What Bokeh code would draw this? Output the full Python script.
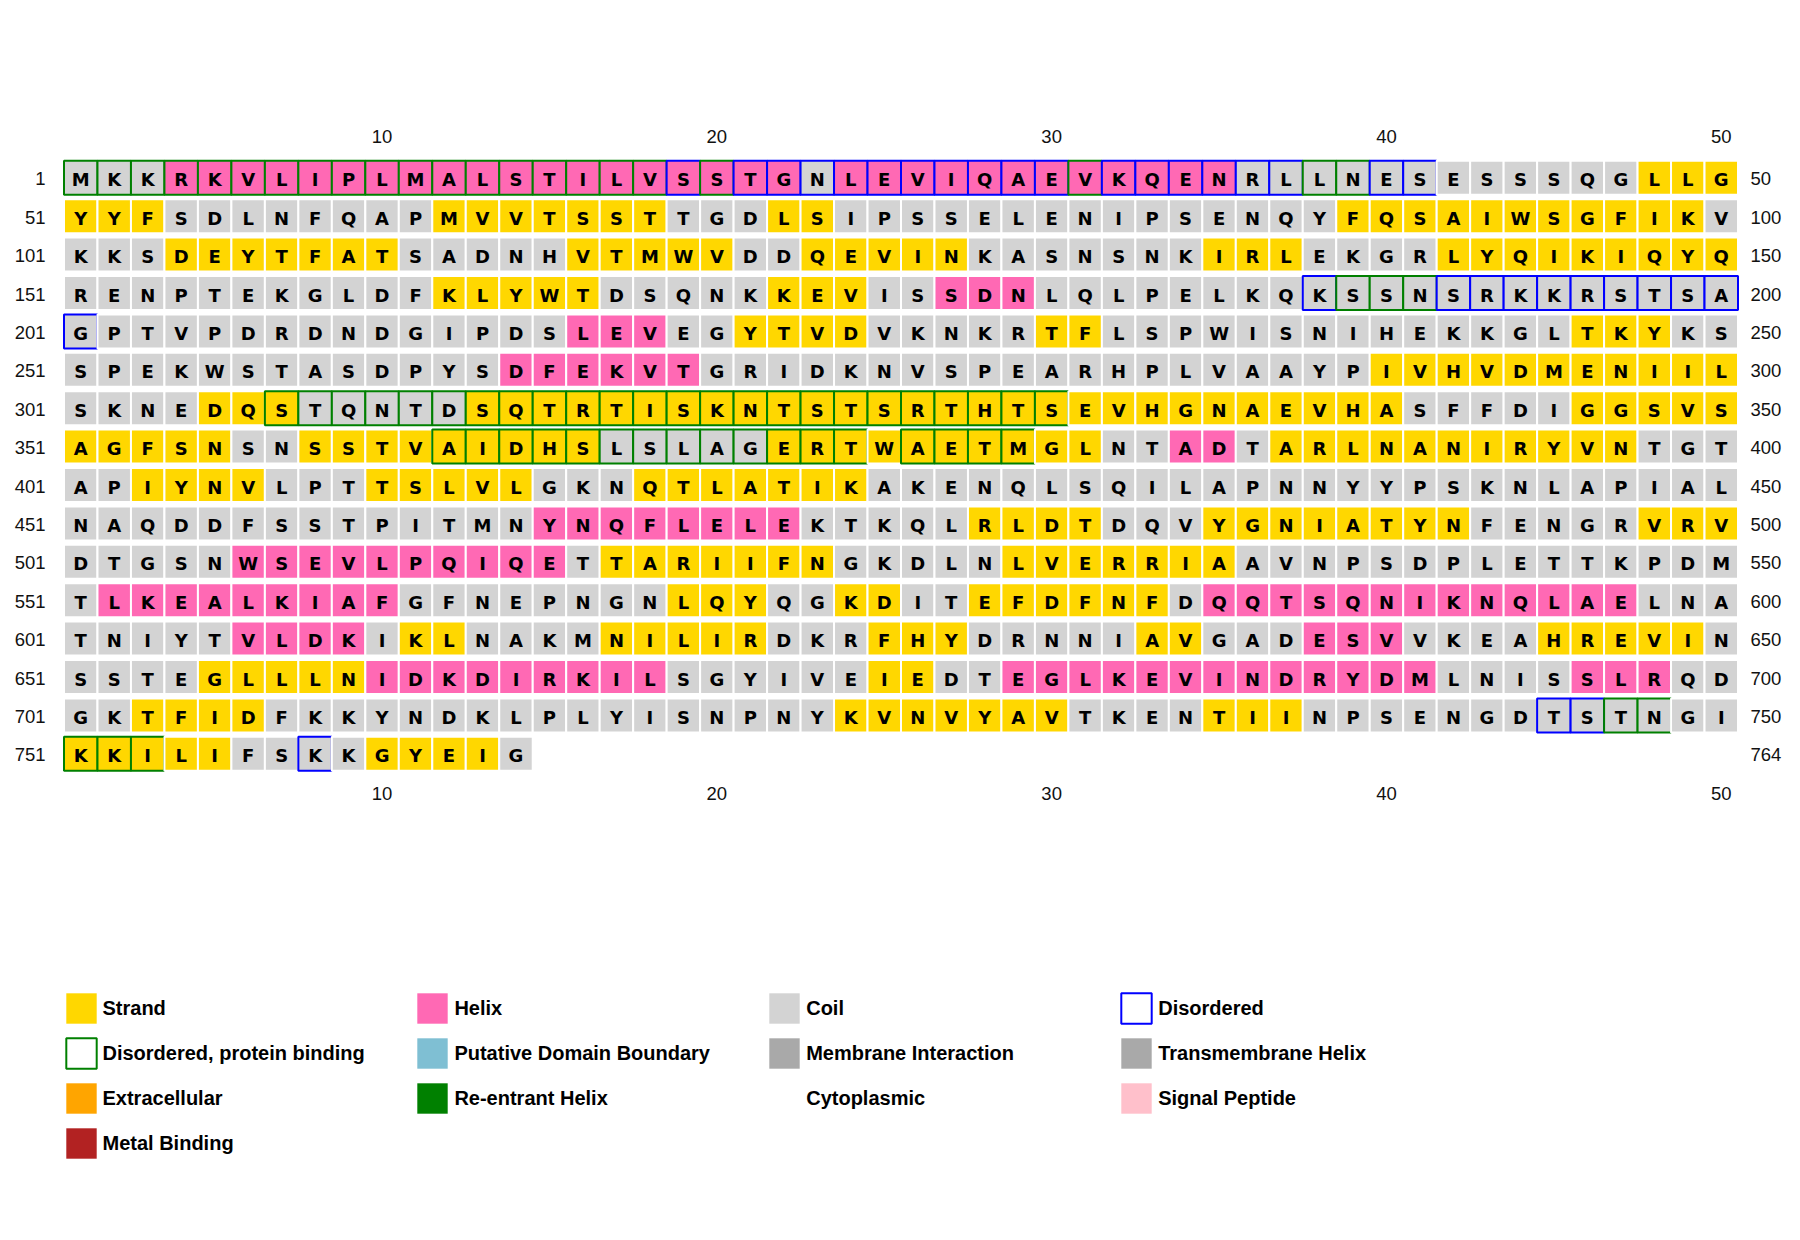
from bokeh.plotting import figure
from bokeh.models import ColumnDataSource, Range1d, Legend, LegendItem
from bokeh.core.properties import value
from bokeh.embed import file_html
from bokeh.resources import INLINE

# ---------------- data ----------------
SEQUENCE_ROWS = [
    "MKKRKVLIPLMALSTILVSSTGNLEVIQAEVKQENRLLNESESSSQGLLG",
    "YYFSDLNFQAPMVVTSSTTGDLSIPSSELENIPSENQYFQSAIWSGFIKV",
    "KKSDEYTFATSADNHVTMWVDDQEVINKASNSNKIRLEKGRLYQIKIQYQ",
    "RENPTEKGLDFKLYWTDSQNKKEVISSDNLQLPELKQKSSNSRKKRSTSA",
    "GPTVPDRDNDGIPDSLEVEGYTVDVKNKRTFLSPWISNIHEKKGLTKYKS",
    "SPEKWSTASDPYSDFEKVTGRIDKNVSPEARHPLVAAYPIVHVDMENIIL",
    "SKNEDQSTQNTDSQTRTISKNTSTSRTHTSEVHGNAEVHASFFDIGGSVS",
    "AGFSNSNSSTVAIDHSLSLAGERTWAETMGLNTADTARLNANIRYVNTGT",
    "APIYNVLPTTSLVLGKNQTLATIKAKENQLSQILAPNNYYPSKNLAPIAL",
    "NAQDDFSSTPITMNYNQFLELEKTKQLRLDTDQVYGNIATYNFENGRVRV",
    "DTGSNWSEVLPQIQETTARIIFNGKDLNLVERRIAAVNPSDPLETTKPDM",
    "TLKEALKIAFGFNEPNGNLQYQGKDITEFDFNFDQQTSQNIKNQLAELNA",
    "TNIYTVLDKIKLNAKMNILIRDKRFHYDRNNIAVGADESVVKEAHREVIN",
    "SSTEGLLLNIDKDIRKILSGYIVEIEDTEGLKEVINDRYDMLNISSLRQD",
    "GKTFIDFKKYNDKLPLYISNPNYKVNVYAVTKENTIINPSENGDTSTNGI",
    "KKILIFSKKGYEIG",
]
ROW_LENGTH = 50

STRAND_RANGES = [
    (48, 53), (62, 68), (72, 73), (89, 99), (104, 110), (116, 120), (123, 127),
    (135, 137), (142, 150), (162, 166), (172, 174), (221, 224), (230, 231),
    (246, 248), (290, 300), (305, 307), (313, 340), (346, 355), (358, 366),
    (372, 381), (387, 397), (403, 406), (410, 414), (418, 424), (478, 481),
    (485, 492), (498, 500), (517, 523), (529, 535), (569, 571), (574, 575),
    (578, 583), (611, 612), (617, 621), (625, 627), (633, 634), (645, 649),
    (655, 659), (675, 676), (703, 706), (724, 730), (735, 737), (751, 755),
    (760, 763),
]
HELIX_RANGES = [
    (4, 22), (24, 35), (177, 179), (216, 218), (264, 269), (384, 385),
    (465, 472), (506, 515), (552, 560), (585, 597), (606, 609), (638, 640),
    (660, 668), (679, 691), (696, 698),
]
DISORDERED_RANGES = [
    (19, 19), (21, 30), (32, 37), (40, 41), (188, 188), (192, 201),
    (745, 746), (758, 758),
]
PROTEIN_BINDING_RANGES = [
    (1, 18), (20, 20), (31, 31), (38, 39), (189, 191), (307, 330),
    (362, 374), (376, 379), (747, 748), (751, 753),
]
AXIS_TICKS = [10, 20, 30, 40, 50]

LEGEND_COLUMNS = [
    [("Strand", "#FFD700", None), ("Disordered, protein binding", "white", "#008000"),
     ("Extracellular", "#FFA500", None), ("Metal Binding", "#B22222", None)],
    [("Helix", "#FF69B4", None), ("Putative Domain Boundary", "#7FBFD3", None),
     ("Re-entrant Helix", "#008000", None)],
    [("Coil", "#D3D3D3", None), ("Membrane Interaction", "#A9A9A9", None),
     ("Cytoplasmic", None, None)],
    [("Disordered", "white", "#0000FF"), ("Transmembrane Helix", "#A9A9A9", None),
     ("Signal Peptide", "#FFC0CB", None)],
]

SS_COLORS = {"strand": "#FFD700", "helix": "#FF69B4", "coil": "#D3D3D3"}
BORDER_COLORS = {"disordered": "#0000FF", "binding": "#008000", None: "white"}

# ---------------- build cells ----------------
sequence = "".join(SEQUENCE_ROWS)
n = len(sequence)
ss = ["coil"] * n
for a, b in STRAND_RANGES:
    for i in range(a, b + 1):
        ss[i - 1] = "strand"
for a, b in HELIX_RANGES:
    for i in range(a, b + 1):
        ss[i - 1] = "helix"
border = [None] * n
for a, b in DISORDERED_RANGES:
    for i in range(a, b + 1):
        border[i - 1] = "disordered"
for a, b in PROTEIN_BINDING_RANGES:
    for i in range(a, b + 1):
        border[i - 1] = "binding"

cols = [(i % ROW_LENGTH) + 1 for i in range(n)]
rows = [i // ROW_LENGTH for i in range(n)]
src = ColumnDataSource(dict(
    x=cols, y=rows, aa=list(sequence),
    fill=[SS_COLORS[s] for s in ss],
    line=[BORDER_COLORS[b] for b in border],
))

W, H = 1800, 1240
COL_PX = 33.48
ROW_PX = 38.4
X0_PX = 80.24   # centre of column 1
Y0_PX = 177.3   # centre of first row

p = figure(width=W, height=H,
           x_range=Range1d(1 - X0_PX / COL_PX, 1 + (W - X0_PX) / COL_PX),
           y_range=Range1d((H - Y0_PX) / ROW_PX, -Y0_PX / ROW_PX),
           output_backend="svg", toolbar_location=None, min_border=0,
           x_axis_location=None, y_axis_location=None,
           outline_line_color=None, background_fill_color="white",
           border_fill_color="white")
p.grid.grid_line_color = None

p.rect(x="x", y="y", width=1.0, height=34 / ROW_PX, fill_color="fill",
       line_color="line", line_width=2, source=src)
p.text(x="x", y="y", text="aa", text_align="center", text_baseline="middle",
       y_offset=2, text_font=value("DejaVu Sans"), text_font_style="bold",
       text_font_size="18px", text_color="black", source=src)

# row number labels
nrows = len(SEQUENCE_ROWS)
left_src = ColumnDataSource(dict(
    x=[1 + (45 - X0_PX) / COL_PX] * nrows, y=list(range(nrows)),
    t=[str(r * ROW_LENGTH + 1) for r in range(nrows)]))
right_src = ColumnDataSource(dict(
    x=[1 + (1750 - X0_PX) / COL_PX] * nrows, y=list(range(nrows)),
    t=[str(min((r + 1) * ROW_LENGTH, n)) for r in range(nrows)]))
for s, align in ((left_src, "right"), (right_src, "left")):
    p.text(x="x", y="y", text="t", source=s, text_align=align,
           text_baseline="middle", y_offset=1,
           text_font=value("Liberation Sans"), text_font_size="18.5px",
           text_color="#111111")

# column tick labels (top and bottom)
tick_src = ColumnDataSource(dict(
    x=AXIS_TICKS * 2,
    y=[(135.5 - Y0_PX) / ROW_PX] * len(AXIS_TICKS) + [(792.7 - Y0_PX) / ROW_PX] * len(AXIS_TICKS),
    t=[str(t) for t in AXIS_TICKS] * 2))
p.text(x="x", y="y", text="t", source=tick_src, text_align="center",
       text_baseline="middle", text_font=value("Liberation Sans"),
       text_font_size="18.5px", text_color="#111111")

# legend (swatch renderers are hidden; only their legend glyphs are drawn)
GLYPH = 38
INSET = GLYPH * 0.1
SPACING = 7
SWATCH_TOP = 993
col_lefts = [65.3, 417.2, 769.0, 1121.0]
for entries, left in zip(LEGEND_COLUMNS, col_lefts):
    items = []
    for label, fill, line in entries:
        r = p.rect(x=[0], y=[0], width=1, height=1,
                   fill_color=fill, fill_alpha=0 if fill is None else 1,
                   line_color=line, line_alpha=0 if line is None else 1,
                   line_width=2, visible=False)
        items.append(LegendItem(label=label, renderers=[r]))
    k = len(items)
    lh = k * GLYPH + (k - 1) * SPACING
    top = SWATCH_TOP - INSET
    leg = Legend(items=items, location=(left - INSET, H - top - lh),
                 orientation="vertical", glyph_width=GLYPH, glyph_height=GLYPH,
                 spacing=SPACING, padding=0, margin=0, label_standoff=3,
                 label_text_font="Liberation Sans", label_text_font_style="bold",
                 label_text_font_size="20px", label_text_color="black",
                 border_line_color=None, background_fill_alpha=0)
    p.add_layout(leg, "center")

open("out.html", "w").write(file_html(p, INLINE))
